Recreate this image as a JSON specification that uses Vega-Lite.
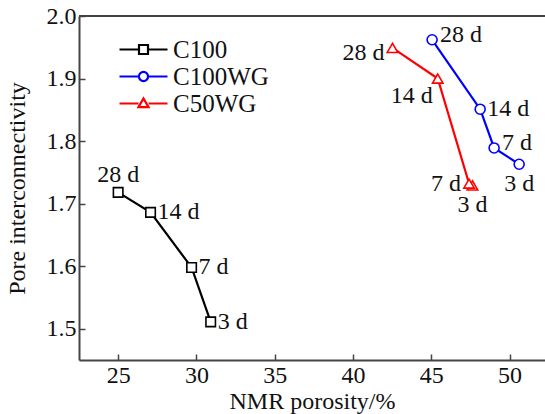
{
  "$schema": "https://vega.github.io/schema/vega-lite/v6.json",
  "autosize": "none",
  "width": 466,
  "height": 344,
  "padding": {"left": 79, "top": 16, "right": 0, "bottom": 54},
  "config": {
    "view": {"stroke": null},
    "font": "Liberation Serif",
    "axis": {
      "grid": false,
      "domainColor": "#444444",
      "domainWidth": 2,
      "tickColor": "#444444",
      "tickWidth": 1.5,
      "tickSize": -6,
      "labelFont": "Liberation Serif",
      "labelFontSize": 24,
      "labelColor": "#111111",
      "titleFont": "Liberation Serif",
      "titleFontSize": 24,
      "titleFontWeight": "normal",
      "titleColor": "#111111"
    },
    "legend": {
      "title": null, "orient": "none", "legendX": 51, "legendY": 20,
      "padding": 0, "symbolSize": 576, "symbolStrokeWidth": 2.2, "symbolFillColor": "white",
      "labelFont": "Liberation Serif", "labelFontSize": 25, "labelColor": "#111111",
      "labelOffset": 16, "rowPadding": -2,
      "symbolType": "M-2,0H-0.375M0.375,0H2M-0.375,-0.375H0.375V0.375H-0.375Z"
    },
    "text": {"font": "Liberation Serif", "fontSize": 24, "color": "#111111"}
  },
  "data": {
    "values": [
      {"series": "C100", "age": "3 d", "days": 3, "porosity": 30.91, "connectivity": 1.511},
      {"series": "C100", "age": "7 d", "days": 7, "porosity": 29.69, "connectivity": 1.598},
      {"series": "C100", "age": "14 d", "days": 14, "porosity": 27.07, "connectivity": 1.686},
      {"series": "C100", "age": "28 d", "days": 28, "porosity": 25.0, "connectivity": 1.718},
      {"series": "C100WG", "age": "3 d", "days": 3, "porosity": 50.61, "connectivity": 1.763},
      {"series": "C100WG", "age": "7 d", "days": 7, "porosity": 49.01, "connectivity": 1.789},
      {"series": "C100WG", "age": "14 d", "days": 14, "porosity": 48.12, "connectivity": 1.851},
      {"series": "C100WG", "age": "28 d", "days": 28, "porosity": 45.05, "connectivity": 1.962},
      {"series": "C50WG", "age": "3 d", "days": 3, "porosity": 47.63, "connectivity": 1.729},
      {"series": "C50WG", "age": "7 d", "days": 7, "porosity": 47.41, "connectivity": 1.732},
      {"series": "C50WG", "age": "14 d", "days": 14, "porosity": 45.41, "connectivity": 1.9},
      {"series": "C50WG", "age": "28 d", "days": 28, "porosity": 42.52, "connectivity": 1.949}
    ]
  },
  "encoding": {
    "x": {
      "field": "porosity", "type": "quantitative",
      "scale": {"domain": [22.5, 52.26], "nice": false, "zero": false},
      "axis": {"values": [25, 30, 35, 40, 45, 50], "title": "NMR porosity/%", "labelPadding": 9, "titlePadding": 2}
    },
    "y": {
      "field": "connectivity", "type": "quantitative",
      "scale": {"domain": [1.45, 2.0], "nice": false, "zero": false},
      "axis": {"values": [1.5, 1.6, 1.7, 1.8, 1.9, 2.0], "format": ".1f", "title": "Pore interconnectivity", "labelPadding": 9, "titlePadding": 17}
    },
    "color": {
      "field": "series", "type": "nominal",
      "scale": {"domain": ["C100", "C100WG", "C50WG"], "range": ["#000000", "#0000ff", "#ff0000"]},
      "legend": {
        "encode": {"symbols": {"update": {"shape": {"signal": "datum.value == 'C100' ? 'M-2,0H-0.375M0.375,0H2M-0.375,-0.375H0.375V0.375H-0.375Z' : datum.value == 'C100WG' ? 'M-2,0H-0.38M0.38,0H2M0.38,0A0.38,0.38 0 1,1 -0.38,0A0.38,0.38 0 1,1 0.38,0' : 'M-2,0H-0.42M0.42,0H2M-0.42,0.3L0,-0.42L0.42,0.3Z'"}}}}
      }
    }
  },
  "layer": [
    {
      "mark": {"type": "rule", "color": "#444444", "strokeWidth": 2},
      "encoding": {"y": {"datum": 2.0}, "x": null, "color": null}
    },
    {
      "mark": {"type": "line", "strokeWidth": 2.2},
      "encoding": {"order": {"field": "days", "type": "quantitative"}}
    },
    {
      "transform": [{"filter": "datum.series == 'C100'"}],
      "mark": {"type": "point", "shape": "square", "filled": false, "fill": "white", "fillOpacity": 1, "strokeWidth": 1.6, "size": 90, "opacity": 1}
    },
    {
      "transform": [{"filter": "datum.series == 'C100WG'"}],
      "mark": {"type": "point", "shape": "circle", "filled": false, "fill": "white", "fillOpacity": 1, "strokeWidth": 1.6, "size": 100, "opacity": 1}
    },
    {
      "transform": [{"filter": "datum.series == 'C50WG'"}],
      "mark": {"type": "point", "shape": "triangle-up", "filled": false, "fill": "white", "fillOpacity": 1, "strokeWidth": 1.6, "size": 110, "opacity": 1}
    },
    {
      "transform": [{"filter": "datum.series == 'C100' && datum.days == 28"}],
      "mark": {"type": "text", "align": "center", "baseline": "bottom", "dy": -5},
      "encoding": {"text": {"field": "age"}, "color": null}
    },
    {
      "transform": [{"filter": "(datum.series == 'C100' && datum.days != 28) || (datum.series == 'C100WG' && datum.days == 14)"}],
      "mark": {"type": "text", "align": "left", "baseline": "middle", "dx": 7},
      "encoding": {"text": {"field": "age"}, "color": null}
    },
    {
      "transform": [{"filter": "datum.series == 'C100WG' && (datum.days == 28 || datum.days == 7)"}],
      "mark": {"type": "text", "align": "left", "baseline": "middle", "dx": 8, "dy": -5},
      "encoding": {"text": {"field": "age"}, "color": null}
    },
    {
      "transform": [{"filter": "datum.days == 3 && datum.series != 'C100'"}],
      "mark": {"type": "text", "align": "center", "baseline": "middle", "dy": 20},
      "encoding": {"text": {"field": "age"}, "color": null}
    },
    {
      "transform": [{"filter": "datum.series == 'C50WG' && datum.days == 28"}],
      "mark": {"type": "text", "align": "right", "baseline": "middle", "dx": -8, "dy": 5},
      "encoding": {"text": {"field": "age"}, "color": null}
    },
    {
      "transform": [{"filter": "datum.series == 'C50WG' && datum.days == 7"}],
      "mark": {"type": "text", "align": "right", "baseline": "middle", "dx": -8},
      "encoding": {"text": {"field": "age"}, "color": null}
    },
    {
      "transform": [{"filter": "datum.series == 'C50WG' && datum.days == 14"}],
      "mark": {"type": "text", "align": "right", "baseline": "middle", "dx": -5, "dy": 17},
      "encoding": {"text": {"field": "age"}, "color": null}
    }
  ]
}
